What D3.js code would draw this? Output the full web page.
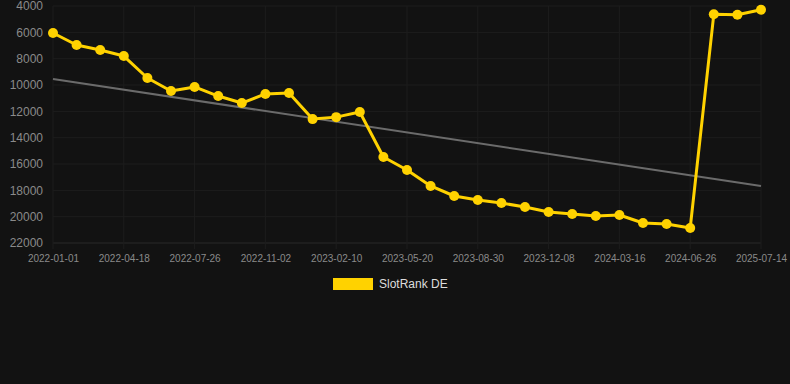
<!DOCTYPE html>
<html>
<head>
<meta charset="utf-8">
<script src="https://cdn.jsdelivr.net/npm/d3@7"></script>
<style>
  body { margin: 0; background: #121212; }
  svg { display: block; font-family: "Liberation Sans", Arial, sans-serif; }
  .grid line { stroke: #1d1d1d; stroke-width: 1; }
  .tick text { fill: #8a8a8a; }
</style>
</head>
<body>
<script>
const width = 790, height = 384;
const margin = {top: 6, right: 29, bottom: 141, left: 53};

// categories (every 3rd one is labelled)
const dates = [
  "2022-01-01", "2022-02-06", "2022-03-14", "2022-04-18", "2022-05-24", "2022-06-20",
  "2022-07-26", "2022-08-31", "2022-09-27", "2022-11-02", "2022-12-08", "2023-01-05",
  "2023-02-10", "2023-03-18", "2023-04-14", "2023-05-20", "2023-06-25", "2023-07-25",
  "2023-08-30", "2023-10-05", "2023-11-02", "2023-12-08", "2024-01-13", "2024-02-10",
  "2024-03-16", "2024-04-21", "2024-05-21", "2024-06-26", "2025-05-01", "2025-06-07",
  "2025-07-14"
];
const rank = [
  6050, 6960, 7340, 7800, 9470, 10460,
  10150, 10840, 11370, 10680, 10610, 12590,
  12440, 12050, 15470, 16460, 17670, 18430,
  18730, 18960, 19270, 19650, 19800, 19950,
  19870, 20480, 20560, 20860, 4630, 4660,
  4280
];
const trend = [9540, 17670];
const yTicks = [4000, 6000, 8000, 10000, 12000, 14000, 16000, 18000, 20000, 22000];
const seriesName = "SlotRank DE";

const svg = d3.select("body").append("svg")
  .attr("width", width)
  .attr("height", height);

const plotW = width - margin.left - margin.right;
const plotH = height - margin.top - margin.bottom;

const x = d3.scalePoint()
  .domain(dates)
  .range([0, plotW]);

const y = d3.scaleLinear()
  .domain([4000, 22000])
  .range([0, plotH]);

const g = svg.append("g")
  .attr("transform", `translate(${margin.left}, ${margin.top})`);

const labelled = dates.filter((d, i) => i % 3 === 0);

// grid
g.append("g").attr("class", "grid")
  .selectAll("line.h")
  .data(yTicks)
  .enter().append("line")
  .attr("x1", 0).attr("x2", plotW)
  .attr("y1", d => y(d)).attr("y2", d => y(d))
  .style("stroke", d => d === 22000 ? "#282828" : null);

g.append("g").attr("class", "grid")
  .selectAll("line.v")
  .data(labelled)
  .enter().append("line")
  .attr("x1", d => x(d)).attr("x2", d => x(d))
  .attr("y1", 0).attr("y2", plotH + 6);

// axes
const axisY = d3.axisLeft(y).tickValues(yTicks).tickSize(0).tickPadding(10).tickFormat(d3.format("d"));
g.append("g")
  .call(axisY)
  .call(s => s.select(".domain").remove())
  .selectAll("text")
  .style("font-size", "12px");

const axisX = d3.axisBottom(x).tickValues(labelled).tickSize(0).tickPadding(12);
g.append("g")
  .attr("transform", `translate(0, ${plotH})`)
  .call(axisX)
  .call(s => s.select(".domain").remove())
  .selectAll("text")
  .style("font-size", "10px");

// trend line
g.append("line")
  .attr("x1", x(dates[0])).attr("y1", y(trend[0]))
  .attr("x2", x(dates[dates.length - 1])).attr("y2", y(trend[1]))
  .attr("stroke", "#6b6b6b")
  .attr("stroke-width", 2);

// series
const line = d3.line()
  .x((d, i) => x(dates[i]))
  .y(d => y(d));

g.append("path")
  .attr("d", line(rank))
  .attr("fill", "none")
  .attr("stroke", "#ffd200")
  .attr("stroke-width", 3)
  .attr("stroke-linejoin", "round");

g.selectAll(".dot")
  .data(rank)
  .enter().append("circle")
  .attr("class", "dot")
  .attr("r", 5)
  .attr("cx", (d, i) => x(dates[i]))
  .attr("cy", d => y(d))
  .attr("fill", "#ffd200");

// legend
const legend = svg.append("g")
  .attr("transform", "translate(333, 278)");

legend.append("rect")
  .attr("width", 40)
  .attr("height", 12)
  .attr("fill", "#ffd200");

legend.append("text")
  .attr("x", 46)
  .attr("y", 6)
  .attr("dy", "0.35em")
  .attr("fill", "#dddddd")
  .style("font-size", "12px")
  .text(seriesName);
</script>
</body>
</html>
